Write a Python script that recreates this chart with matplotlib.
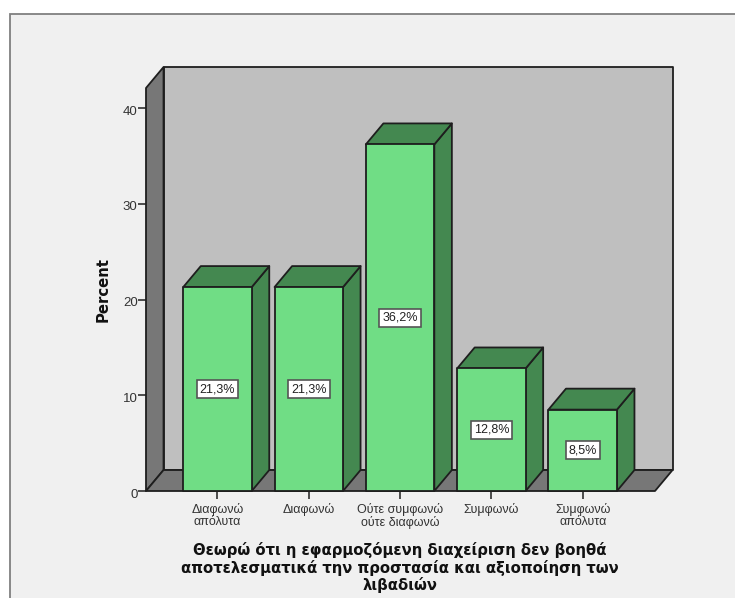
import matplotlib
matplotlib.use("Agg")
import matplotlib.pyplot as plt
from matplotlib.patches import Polygon, Rectangle
from matplotlib.transforms import ScaledTranslation

categories = ["Διαφωνώ\nαπόλυτα", "Διαφωνώ", "Ούτε συμφωνώ\nούτε διαφωνώ", "Συμφωνώ", "Συμφωνώ\nαπόλυτα"]
percent = [21.3, 21.3, 36.2, 12.8, 8.5]
labels = ["21,3%", "21,3%", "36,2%", "12,8%", "8,5%"]
y_ticks = [0, 10, 20, 30, 40]
xlabel = "Θεωρώ ότι η εφαρμοζόμενη διαχείριση δεν βοηθά\nαποτελεσματικά την προστασία και αξιοποίηση των\nλιβαδιών"

W, H = 735, 598
FRONT, DARK, WALL, SHADE, BG, INK = "#70DD85", "#448850", "#BFBFBF", "#777777", "#F0F0F0", "#1E1E1E"
plt.rcParams["font.family"] = ["Liberation Sans", "DejaVu Sans"]

fig = plt.figure(figsize=(W / 100, H / 100), dpi=100, facecolor="white")
fig.add_artist(Rectangle((9.5 / W, -0.01), 1, 1 - 13.5 / H + 0.01, transform=fig.transFigure,
                         facecolor=BG, edgecolor="#808080", linewidth=1.3, zorder=-1))

ax = fig.add_axes([146 / W, 1 - 491 / H, 509 / W, 403 / H])
ax.patch.set_visible(False)
for s in ax.spines.values():
    s.set_visible(False)
xmin, xmax = -0.783, 4.792
ymin, ymax = 0, 42.09
ax.set_xlim(xmin, xmax)
ax.set_ylim(ymin, ymax)
dx, dy = 0.192, 2.19
half = 0.375
lw = 1.3


def poly(pts, color, z):
    ax.add_patch(Polygon(pts, closed=True, facecolor=color, edgecolor=INK, linewidth=lw,
                         joinstyle="round", clip_on=False, zorder=z))


poly([(xmin + dx, ymin + dy), (xmax + dx, ymin + dy), (xmax + dx, ymax + dy), (xmin + dx, ymax + dy)], WALL, 1)
poly([(xmin, ymin), (xmin + dx, ymin + dy), (xmin + dx, ymax + dy), (xmin, ymax)], SHADE, 1.1)
poly([(xmin, ymin), (xmax, ymin), (xmax + dx, ymin + dy), (xmin + dx, ymin + dy)], SHADE, 1.2)

for i, v in enumerate(percent):
    l, r = i - half, i + half
    z = 2 + i * 0.1
    poly([(r, 0), (r + dx, dy), (r + dx, v + dy), (r, v)], DARK, z)
    poly([(l, v), (r, v), (r + dx, v + dy), (l + dx, v + dy)], DARK, z)
    poly([(l, 0), (r, 0), (r, v), (l, v)], FRONT, z + 0.01)
    ax.text(i, v / 2, labels[i], ha="center", va="center", fontsize=9, color="#222222", zorder=5,
            bbox=dict(boxstyle="square,pad=0.24", facecolor="white", edgecolor="#555555", linewidth=1.2))

ax.set_yticks(y_ticks)
ax.set_xticks(range(len(categories)))
ax.set_xticklabels(categories, fontsize=9, color="#333333", linespacing=1.05)
ax.tick_params(axis="x", length=5.5, width=1.1, color=INK, pad=3)
ax.tick_params(axis="y", length=5.5, width=1.1, color=INK, pad=0.5, labelsize=9.5, labelcolor="#333333")
shift = ScaledTranslation(0, -2 / 100, fig.dpi_scale_trans)
for lab in ax.get_yticklabels():
    lab.set_transform(lab.get_transform() + shift)

ax.text((400 - 146) / 509, -(542 - 491) / 403, xlabel, transform=ax.transAxes,
        ha="center", va="top", fontsize=10.75, fontweight="bold", family="DejaVu Sans", color="#111111",
        linespacing=1.12, clip_on=False)
ax.text((103 - 146) / 509, (491 - 289) / 403, "Percent", transform=ax.transAxes, rotation=90,
        ha="center", va="center", fontsize=10.75, fontweight="bold", family="DejaVu Sans", color="#111111")

fig.savefig("out.png", dpi=100, facecolor="white")
